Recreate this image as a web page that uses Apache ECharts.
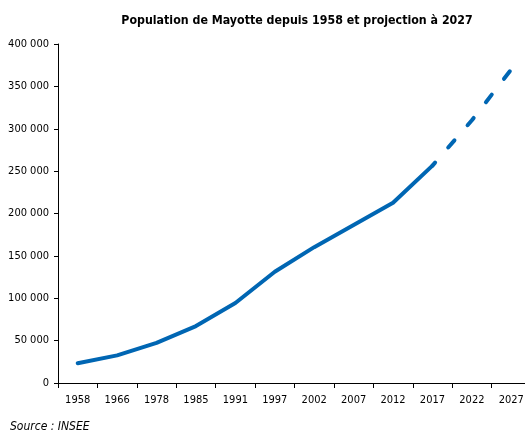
<!DOCTYPE html>
<html>
<head>
<meta charset="utf-8">
<script src="https://cdn.jsdelivr.net/npm/echarts@6/dist/echarts.min.js"></script>
<style>
  html, body { margin: 0; padding: 0; background: #fff; }
  #main { width: 525px; height: 432px; }
</style>
</head>
<body>
<div id="main"></div>
<script>
// annees et population (recensements INSEE + projection)
var years = ['1958', '1966', '1978', '1985', '1991', '1997', '2002', '2007', '2012', '2017', '2022', '2027']
var observed = [23364, 32607, 47246, 67205, 94410, 131320, 160265, 186452, 212645, 256518, null, null]
var projection = [null, null, null, null, null, null, null, null, null, 256518, 310000, 370000]
var yTicks = [0, 50000, 100000, 150000, 200000, 250000, 300000, 350000, 400000]

var font = '"Liberation Sans Narrow", "DejaVu Sans Condensed", sans-serif'
var blue = '#0066B3'

function fmt(v) {
    return String(v).replace(/\B(?=(\d{3})+(?!\d))/g, ' ')
}

var myChart = echarts.init(document.getElementById('main'))
var option = {
    animation: false,
    title: {
        text: 'Population de Mayotte depuis 1958 et projection à 2027',
        left: 292,
        textAlign: 'center',
        top: 10,
        textStyle: { fontFamily: 'DejaVu Sans Condensed', fontWeight: 'bold', fontSize: 12.3, color: '#000' }
    },
    graphic: [{
        type: 'text',
        left: 10,
        top: 421,
        style: { text: 'Source : INSEE', font: 'italic 12px ' + font, fill: '#000' }
    }],
    grid: { left: 58, top: 44, bottom: 49, width: 473, outerBoundsMode: 'none' },
    xAxis: {
        type: 'category',
        data: years,
        boundaryGap: true,
        axisLine: { lineStyle: { color: '#000', width: 1 } },
        axisTick: { show: true, length: 5, lineStyle: { color: '#000' } },
        axisLabel: { color: '#000', fontFamily: font, fontSize: 11, margin: 12 }
    },
    yAxis: {
        type: 'value',
        min: yTicks[0],
        max: yTicks[yTicks.length - 1],
        interval: 50000,
        axisLine: { show: true, lineStyle: { color: '#000', width: 1 } },
        axisTick: { show: true, length: 4, lineStyle: { color: '#000' } },
        splitLine: { show: false },
        axisLabel: { color: '#000', fontFamily: font, fontSize: 11, margin: 9, formatter: fmt }
    },
    series: [{
        name: 'Population',
        type: 'line',
        data: observed,
        symbol: 'none',
        lineStyle: { color: blue, width: 4, cap: 'round', join: 'round' }
    }, {
        name: 'Projection',
        type: 'line',
        data: projection,
        symbol: 'none',
        lineStyle: { color: blue, width: 4, type: [9.5, 20], dashOffset: 5.5, cap: 'round', join: 'round' }
    }]
}
myChart.setOption(option)
</script>
</body>
</html>
